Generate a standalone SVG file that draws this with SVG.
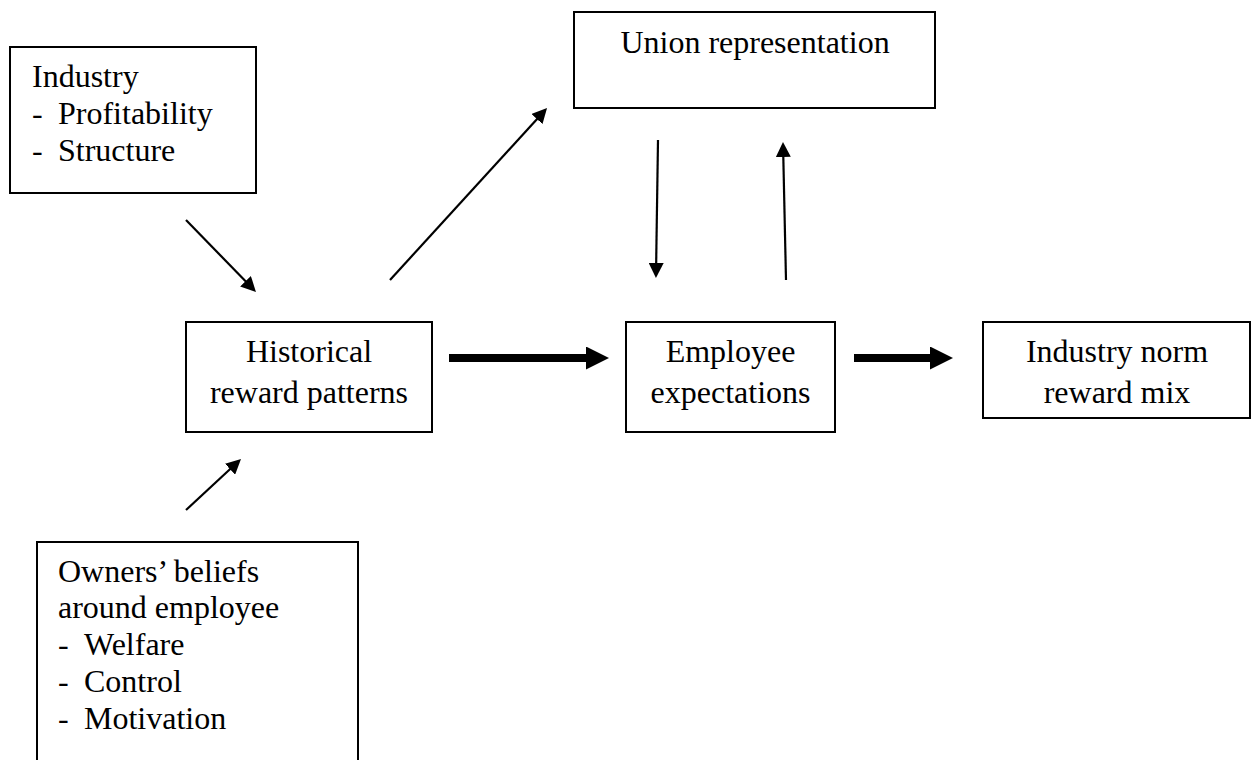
<svg xmlns="http://www.w3.org/2000/svg" width="1253" height="760" viewBox="0 0 1253 760">
  <style>
    .box { fill: #ffffff; stroke: #000000; stroke-width: 2; }
    .lbl { font-size: 32px; fill: #000000; }
    .mid { text-anchor: middle; }
    .thin { stroke: #000000; stroke-width: 2.2; fill: none; marker-end: url(#headThin); }
    .thick { stroke: #000000; stroke-width: 8; fill: none; marker-end: url(#headThick); }
  </style>
  <defs>
    <marker id="headThin" markerUnits="userSpaceOnUse" markerWidth="15" markerHeight="15" refX="5" refY="7.5" orient="auto">
      <path d="M0,0 L15,7.5 L0,15 z" fill="#000000"/>
    </marker>
    <marker id="headThick" markerUnits="userSpaceOnUse" markerWidth="23" markerHeight="23" refX="3" refY="11.5" orient="auto">
      <path d="M0,0 L23,11.5 L0,23 z" fill="#000000"/>
    </marker>
  </defs>

  <rect width="1253" height="760" fill="#ffffff"/>

  <!-- Connectors -->
  <g id="connectors">
    <line class="thin" x1="186" y1="220" x2="249" y2="284.8"/>
    <line class="thin" x1="390" y1="280" x2="540.3" y2="115.4"/>
    <line class="thin" x1="658" y1="140" x2="656.1" y2="268"/>
    <line class="thin" x1="786" y1="280" x2="783.2" y2="152"/>
    <line class="thin" x1="186" y1="510" x2="233.7" y2="465.8"/>
    <line class="thick" x1="449" y1="358" x2="589" y2="358"/>
    <line class="thick" x1="854" y1="358" x2="933" y2="358"/>
  </g>

  <g font-family="Liberation Serif, Times New Roman, DejaVu Serif, serif">
  <!-- Industry factors -->
  <g id="industry">
    <rect class="box" x="10" y="47" width="246" height="146"/>
    <text class="lbl" x="32" y="87">Industry</text>
    <text class="lbl" x="32" y="124">-</text>
    <text class="lbl" x="58" y="124">Profitability</text>
    <text class="lbl" x="32" y="161">-</text>
    <text class="lbl" x="58" y="161">Structure</text>
  </g>

  <!-- Union representation -->
  <g id="union">
    <rect class="box" x="574" y="12" width="361" height="96"/>
    <text class="lbl mid" x="755" y="53">Union representation</text>
  </g>

  <!-- Historical reward patterns -->
  <g id="historical">
    <rect class="box" x="186" y="322" width="246" height="110"/>
    <text class="lbl mid" x="309" y="362">Historical</text>
    <text class="lbl mid" x="309" y="403">reward patterns</text>
  </g>

  <!-- Employee expectations -->
  <g id="employee">
    <rect class="box" x="626" y="322" width="209" height="110"/>
    <text class="lbl mid" x="730.5" y="362">Employee</text>
    <text class="lbl mid" x="730.5" y="403">expectations</text>
  </g>

  <!-- Industry norm reward mix -->
  <g id="norm">
    <rect class="box" x="983" y="322" width="267" height="96"/>
    <text class="lbl mid" x="1117" y="362">Industry norm</text>
    <text class="lbl mid" x="1117" y="403">reward mix</text>
  </g>

  <!-- Owners' beliefs -->
  <g id="owners">
    <rect class="box" x="37" y="542" width="321" height="240"/>
    <text class="lbl" x="58" y="582">Owners’ beliefs</text>
    <text class="lbl" x="58" y="618">around employee</text>
    <text class="lbl" x="58" y="655">-</text>
    <text class="lbl" x="84" y="655">Welfare</text>
    <text class="lbl" x="58" y="692">-</text>
    <text class="lbl" x="84" y="692">Control</text>
    <text class="lbl" x="58" y="729">-</text>
    <text class="lbl" x="84" y="729">Motivation</text>
  </g>
  </g>
</svg>
